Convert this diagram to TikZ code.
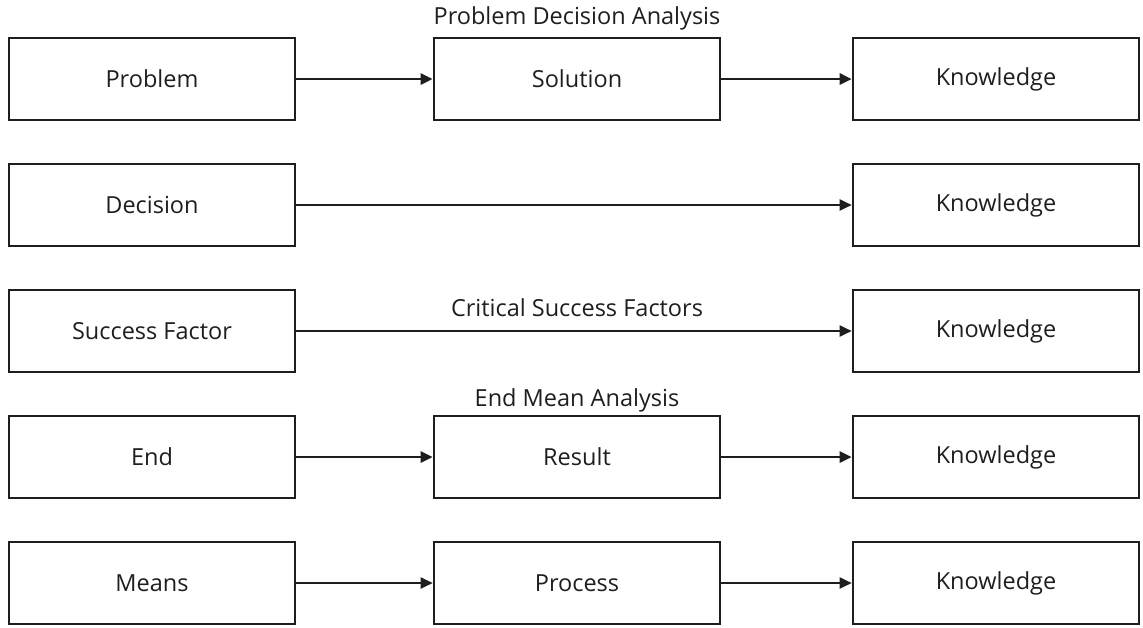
\documentclass[tikz,border=0pt]{standalone}
\usepackage{fontspec}
\setmainfont{Open Sans}
\usetikzlibrary{arrows.meta}
\definecolor{ink}{HTML}{1E1E1E}
\begin{document}
\begin{tikzpicture}[x=1pt,y=-1pt,
  box/.style={draw=ink,line width=2.6pt,minimum width=286pt,minimum height=82pt,inner sep=0pt,font=\fontsize{23.5}{26}\selectfont,text=ink},
  lbl/.style={font=\fontsize{23.5}{26}\selectfont,text=ink,inner sep=0pt},
  conn/.style={draw=ink,line width=2.6pt,-{Triangle[length=12pt,width=11pt]}},
  thin/.style={draw=ink,line width=1.9pt,-{Triangle[length=12pt,width=11pt]}}]
\useasboundingbox (0,0) rectangle (1143,627);
% row 1
\node[box] (p) at (152,79) {Problem};
\node[box] (s) at (577,79) {Solution};
\node[box] (k1) at (996,79) {Knowledge};
\node[lbl] (t1) at (577,18) {Problem Decision Analysis};
\draw[conn] (p) -- (s);
\draw[conn] (s) -- (k1);
% row 2
\node[box] (d) at (152,205) {Decision};
\node[box] (k2) at (996,205) {Knowledge};
\draw[thin,line width=2.2pt] (d) -- (k2);
% row 3
\node[box] (sf) at (152,331) {Success Factor};
\node[box] (k3) at (996,331) {Knowledge};
\node[lbl] (t3) at (577,308) {Critical Success Factors};
\draw[thin] (sf) -- (k3);
% row 4
\node[box] (e) at (152,457) {End};
\node[box] (r) at (577,457) {Result};
\node[box] (k4) at (996,457) {Knowledge};
\node[lbl] (t4) at (577,400) {End Mean Analysis};
\draw[conn] (e) -- (r);
\draw[conn] (r) -- (k4);
% row 5
\node[box] (m) at (152,583) {Means};
\node[box] (pr) at (577,583) {Process};
\node[box] (k5) at (996,583) {Knowledge};
\draw[thin] (m) -- (pr);
\draw[thin] (pr) -- (k5);
\end{tikzpicture}
\end{document}
